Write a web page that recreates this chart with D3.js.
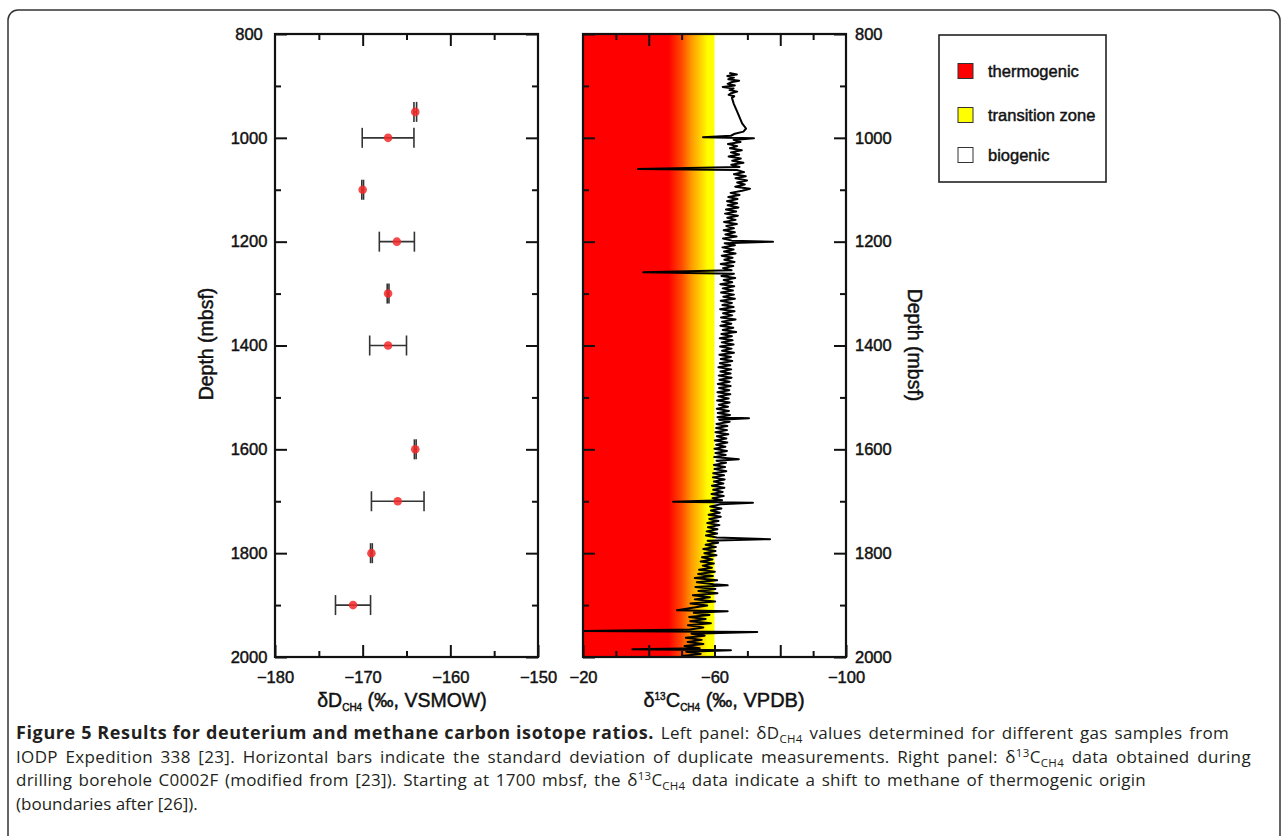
<!DOCTYPE html>
<html>
<head>
<meta charset="utf-8">
<script src="https://cdn.jsdelivr.net/npm/d3@7"></script>
<style>
    body { margin: 0; background: #fff; }
    #chart text { font-family: "Liberation Sans", Arial, sans-serif; fill: #111; }
    #chart text.heavy { stroke: #111; stroke-width: 0.45px; }
    #chart text.caption { font-family: "Open Sans", "Noto Sans", sans-serif; fill: #231f20; stroke: none; }
</style>
</head>
<body>
<svg id="chart" width="1282" height="836"></svg>
<script>
// left panel: deltaD of methane, one sample per depth with standard deviation
const dDepth = [950, 1000, 1100, 1200, 1300, 1400, 1600, 1700, 1800, 1900];
const dValue = [-164.0, -167.1, -170.0, -166.1, -167.1, -167.1, -164.0, -166.0, -169.0, -171.1];
const dStd = [0.15, 2.95, 0.1, 2.0, 0.1, 2.1, 0.1, 3.0, 0.1, 2.0];

// right panel: delta13C of methane while drilling C0002F, [depth, value]
const c13Profile = [
    [875, -64.5], [878, -66.8], [881, -63.9], [884, -65.9], [887, -64.2], [890, -67.5], [893, -65.0], [896, -64.0],
    [899, -66.2], [902, -62.5], [905, -65.8], [908, -64.6], [911, -66.9], [914, -65.1], [917, -64.3], [920, -66.0],
    [923, -65.3], [935, -65.9], [948, -66.8], [960, -67.6], [972, -68.4], [982, -69.6], [988, -68.8], [992, -66.2],
    [996, -65.0], [999, -56.5], [1001, -72.0], [1004, -65.8], [1008, -67.9], [1012, -64.1], [1016, -66.9], [1020, -64.7],
    [1024, -68.3], [1028, -65.0], [1032, -67.5], [1036, -64.3], [1040, -68.0], [1044, -65.4], [1048, -68.8], [1052, -65.1],
    [1056, -67.6], [1060, -36.7], [1062, -66.8], [1066, -69.0], [1070, -65.9], [1074, -69.5], [1078, -66.4], [1082, -69.9],
    [1086, -66.9], [1090, -69.2], [1094, -66.3], [1098, -70.8], [1102, -68.4], [1106, -64.9], [1110, -67.6], [1114, -64.2],
    [1118, -67.0], [1122, -63.8], [1126, -66.9], [1130, -64.0], [1134, -67.3], [1138, -63.5], [1142, -66.6], [1146, -63.2],
    [1150, -67.1], [1154, -63.9], [1158, -66.4], [1162, -62.9], [1166, -66.8], [1170, -63.6], [1174, -65.9], [1178, -62.8],
    [1182, -66.2], [1186, -63.3], [1190, -66.7], [1194, -62.6], [1198, -65.3], [1200, -77.8], [1203, -63.1], [1207, -66.2],
    [1211, -62.4], [1215, -65.8], [1219, -62.9], [1223, -66.4], [1227, -62.2], [1231, -65.5], [1235, -63.0], [1239, -66.1],
    [1243, -61.9], [1247, -65.7], [1251, -62.6], [1255, -65.2], [1259, -38.3], [1262, -65.9], [1266, -62.1], [1270, -66.3],
    [1274, -62.8], [1278, -65.4], [1282, -61.8], [1286, -66.0], [1290, -62.5], [1294, -65.6], [1298, -62.0], [1302, -65.9],
    [1306, -62.7], [1310, -66.2], [1314, -61.9], [1318, -65.3], [1322, -62.4], [1326, -65.8], [1330, -61.7], [1334, -66.1],
    [1338, -62.6], [1342, -65.4], [1346, -62.0], [1350, -66.4], [1354, -62.3], [1358, -65.1], [1362, -61.8], [1366, -65.7],
    [1370, -62.5], [1374, -66.6], [1378, -62.1], [1382, -65.3], [1386, -61.6], [1390, -65.5], [1394, -62.2], [1398, -65.8],
    [1402, -61.7], [1406, -65.2], [1410, -62.3], [1414, -65.9], [1418, -61.5], [1422, -65.0], [1426, -61.9], [1430, -65.4],
    [1434, -61.6], [1438, -64.8], [1442, -61.2], [1446, -65.1], [1450, -61.8], [1454, -64.9], [1458, -61.3], [1462, -65.2],
    [1466, -61.5], [1470, -64.6], [1474, -61.0], [1478, -64.9], [1482, -61.4], [1486, -64.5], [1490, -60.9], [1494, -64.8],
    [1498, -61.2], [1502, -64.3], [1506, -60.8], [1510, -64.6], [1514, -61.3], [1518, -64.1], [1522, -60.7], [1526, -64.4],
    [1530, -61.0], [1534, -64.7], [1538, -60.9], [1540, -70.5], [1543, -61.4], [1547, -64.6], [1551, -60.6], [1555, -63.9],
    [1559, -60.5], [1563, -63.8], [1567, -60.3], [1571, -64.2], [1575, -60.7], [1579, -63.6], [1583, -60.1], [1587, -63.9],
    [1591, -60.5], [1595, -63.3], [1599, -60.0], [1603, -63.8], [1607, -60.3], [1611, -63.4], [1615, -59.9], [1619, -67.4],
    [1622, -60.6], [1626, -63.5], [1630, -59.8], [1634, -63.2], [1638, -60.0], [1642, -63.6], [1646, -59.6], [1650, -62.9],
    [1654, -59.5], [1658, -63.1], [1662, -59.8], [1666, -62.7], [1670, -59.2], [1674, -63.0], [1678, -59.6], [1682, -62.5],
    [1686, -59.1], [1690, -62.8], [1694, -59.4], [1698, -62.3], [1701, -47.4], [1703, -71.7], [1706, -61.8], [1710, -58.7],
    [1714, -62.1], [1718, -58.9], [1722, -61.6], [1726, -58.2], [1730, -61.9], [1734, -58.4], [1738, -61.2], [1742, -57.8],
    [1746, -61.5], [1750, -58.0], [1754, -60.9], [1758, -57.6], [1762, -60.8], [1766, -57.4], [1770, -60.7], [1773, -76.9],
    [1776, -57.9], [1780, -61.1], [1784, -57.3], [1788, -60.4], [1792, -56.6], [1796, -60.3], [1800, -56.9], [1804, -60.6],
    [1808, -56.2], [1812, -59.4], [1816, -55.8], [1820, -59.8], [1824, -56.4], [1828, -59.2], [1832, -55.3], [1836, -60.1],
    [1840, -55.0], [1844, -59.5], [1848, -54.0], [1852, -60.8], [1856, -54.6], [1860, -59.7], [1862, -64.0], [1865, -54.2],
    [1869, -60.3], [1873, -55.1], [1877, -60.9], [1881, -53.4], [1885, -58.6], [1889, -54.0], [1893, -60.2], [1897, -52.7],
    [1901, -57.8], [1905, -53.3], [1910, -48.6], [1912, -64.0], [1915, -53.7], [1919, -58.5], [1923, -52.3], [1927, -57.3],
    [1931, -52.6], [1935, -58.9], [1939, -51.9], [1943, -56.6], [1947, -52.5], [1950, -20.0], [1952, -73.0], [1955, -53.0],
    [1959, -57.0], [1963, -51.3], [1967, -56.1], [1971, -51.8], [1975, -56.6], [1979, -50.9], [1983, -55.5], [1985, -35.0],
    [1987, -65.0], [1990, -51.4], [1994, -55.8], [1998, -50.1], [2000, -53.9]
];

const depthLabels = [800, 1000, 1200, 1400, 1600, 1800, 2000];
const depthMinor = [900, 1100, 1300, 1500, 1700, 1900];
const dLabels = [-180, -170, -160, -150];
const dMajor = [-170, -160];
const dMinor = [-175, -165, -155];
const cLabels = [-20, -60, -100];
const cMajor = [-40, -80];
const cMinor = [-30, -50, -70, -90];

const legendNames = ["thermogenic", "transition zone", "biogenic"];
const legendColors = ["#ff0000", "#ffff00", "#ffffff"];

const svg = d3.select('#chart');

// frame of the whole figure
svg.append('rect')
    .attr('x', 8).attr('y', 10)
    .attr('width', 1272).attr('height', 850)
    .attr('rx', 10)
    .attr('fill', 'none')
    .attr('stroke', '#333')
    .attr('stroke-width', 1.5);

const plotTop = 34, plotBottom = 657;
const y = d3.scaleLinear().domain([800, 2000]).range([plotTop, plotBottom]);
const xD = d3.scaleLinear().domain([-180, -150]).range([275, 538]);
const xC = d3.scaleLinear().domain([-20, -100]).range([583, 846]);

function styleAxis(g) {
    g.select('.domain').remove();
    g.selectAll('line').attr('stroke', '#111').attr('stroke-width', 2);
    g.selectAll('text').attr('class', 'heavy').style('font-size', '16.5px');
}

function drawFrame(x, labelsX, majorX, minorX, yLabelSide) {
    const [x0, x1] = x.range();

    // ticks inside the box, on all four sides
    svg.append('g').attr('transform', `translate(0,${plotTop})`)
        .call(d3.axisTop(x).tickValues(majorX).tickSize(-12).tickFormat(''))
        .call(styleAxis);
    svg.append('g').attr('transform', `translate(0,${plotTop})`)
        .call(d3.axisTop(x).tickValues(minorX).tickSize(-6).tickFormat(''))
        .call(styleAxis);
    svg.append('g').attr('transform', `translate(0,${plotBottom})`)
        .call(d3.axisBottom(x).tickValues(labelsX).tickSize(-12).tickPadding(14).tickFormat(d3.format('d')))
        .call(styleAxis);
    svg.append('g').attr('transform', `translate(0,${plotBottom})`)
        .call(d3.axisBottom(x).tickValues(majorX.filter(v => !labelsX.includes(v))).tickSize(-12).tickFormat(''))
        .call(styleAxis);
    svg.append('g').attr('transform', `translate(0,${plotBottom})`)
        .call(d3.axisBottom(x).tickValues(minorX).tickSize(-6).tickFormat(''))
        .call(styleAxis);

    const left = svg.append('g').attr('transform', `translate(${x0},0)`)
        .call(d3.axisLeft(y).tickValues(depthLabels).tickSize(-12).tickPadding(0).tickFormat(d3.format('d')))
        .call(styleAxis);
    svg.append('g').attr('transform', `translate(${x0},0)`)
        .call(d3.axisLeft(y).tickValues(depthMinor).tickSize(-6).tickFormat(''))
        .call(styleAxis);
    const right = svg.append('g').attr('transform', `translate(${x1},0)`)
        .call(d3.axisRight(y).tickValues(depthLabels).tickSize(-12).tickPadding(9).tickFormat(d3.format('d')))
        .call(styleAxis);
    svg.append('g').attr('transform', `translate(${x1},0)`)
        .call(d3.axisRight(y).tickValues(depthMinor).tickSize(-6).tickFormat(''))
        .call(styleAxis);

    if (yLabelSide === 'left') {
        left.selectAll('text').attr('x', -26).attr('text-anchor', 'middle');
        right.selectAll('text').remove();
    } else {
        left.selectAll('text').remove();
    }

    svg.append('rect')
        .attr('x', x0).attr('y', plotTop)
        .attr('width', x1 - x0).attr('height', plotBottom - plotTop)
        .attr('fill', 'none')
        .attr('stroke', '#111')
        .attr('stroke-width', 2.2);
}

// ---- right panel background: thermogenic -> transition zone
const grad = svg.append('defs').append('linearGradient')
    .attr('id', 'zone')
    .attr('gradientUnits', 'userSpaceOnUse')
    .attr('x1', xC(-20)).attr('x2', xC(-60))
    .attr('y1', 0).attr('y2', 0);
[[-20, '#ff0000'], [-46, '#ff0000'], [-50, '#ff4a00'], [-53, '#ff9a00'], [-56.5, '#ffe000'], [-58, '#ffff00'], [-60, '#ffff00']]
    .forEach(([v, c]) => {
        grad.append('stop')
            .attr('offset', (v + 20) / -40)
            .attr('stop-color', c);
    });

svg.append('rect')
    .attr('x', xC(-20)).attr('y', plotTop)
    .attr('width', xC(-60) - xC(-20)).attr('height', plotBottom - plotTop)
    .attr('fill', 'url(#zone)');

svg.append('path')
    .datum(c13Profile)
    .attr('fill', 'none')
    .attr('stroke', '#000')
    .attr('stroke-width', 2)
    .attr('stroke-linejoin', 'round')
    .attr('d', d3.line().x(d => xC(d[1])).y(d => y(d[0])));

drawFrame(xC, cLabels, cMajor, cMinor, 'right');

// ---- left panel: deltaD with error bars
const samples = dDepth.map((d, i) => ({ depth: d, value: dValue[i], sd: dStd[i] }));

const bars = svg.append('g')
    .attr('stroke', '#333')
    .attr('stroke-width', 1.6);
bars.selectAll('.bar')
    .data(samples)
    .enter().append('line')
    .attr('x1', d => xD(d.value - d.sd))
    .attr('x2', d => xD(d.value + d.sd))
    .attr('y1', d => y(d.depth))
    .attr('y2', d => y(d.depth));
bars.selectAll('.capLo')
    .data(samples)
    .enter().append('line')
    .attr('x1', d => xD(d.value - d.sd))
    .attr('x2', d => xD(d.value - d.sd))
    .attr('y1', d => y(d.depth) - 10)
    .attr('y2', d => y(d.depth) + 10);
bars.selectAll('.capHi')
    .data(samples)
    .enter().append('line')
    .attr('x1', d => xD(d.value + d.sd))
    .attr('x2', d => xD(d.value + d.sd))
    .attr('y1', d => y(d.depth) - 10)
    .attr('y2', d => y(d.depth) + 10);

svg.selectAll('.dot')
    .data(samples)
    .enter().append('circle')
    .attr('cx', d => xD(d.value))
    .attr('cy', d => y(d.depth))
    .attr('r', 4.3)
    .attr('fill', '#f42a2a')
    .attr('fill-opacity', 0.85);

drawFrame(xD, dLabels, dMajor, dMinor, 'left');

// ---- axis titles
function depthTitle(cx, cy, angle) {
    svg.append('text')
        .attr('class', 'heavy')
        .attr('transform', `translate(${cx},${cy}) rotate(${angle})`)
        .attr('text-anchor', 'middle')
        .attr('dy', '0.35em')
        .style('font-size', '19.5px')
        .text('Depth (mbsf)');
}
depthTitle(206, 344, -90);
depthTitle(915, 345, 90);

const tD = svg.append('text')
    .attr('class', 'heavy')
    .attr('x', 402).attr('y', 707)
    .attr('text-anchor', 'middle')
    .style('font-size', '19.5px');
tD.append('tspan').text('δD');
tD.append('tspan').attr('dy', 4).style('font-size', '10px').text('CH4');
tD.append('tspan').attr('dy', -4).text(' (‰, VSMOW)');

const tC = svg.append('text')
    .attr('class', 'heavy')
    .attr('x', 724).attr('y', 707)
    .attr('text-anchor', 'middle')
    .style('font-size', '20px');
tC.append('tspan').text('δ');
tC.append('tspan').attr('dy', -7).style('font-size', '10px').text('13');
tC.append('tspan').attr('dy', 7).text('C');
tC.append('tspan').attr('dy', 4).style('font-size', '10px').text('CH4');
tC.append('tspan').attr('dy', -4).text(' (‰, VPDB)');

// ---- legend
const legend = svg.append('g');
legend.append('rect')
    .attr('x', 939).attr('y', 35)
    .attr('width', 167).attr('height', 147)
    .attr('fill', '#fff')
    .attr('stroke', '#222')
    .attr('stroke-width', 1.6);
const item = legend.selectAll('.item')
    .data(legendNames)
    .enter().append('g')
    .attr('transform', (d, i) => `translate(958,${[71, 115, 155][i]})`);
item.append('rect')
    .attr('x', 0).attr('y', -7.5)
    .attr('width', 15).attr('height', 15)
    .attr('fill', (d, i) => legendColors[i])
    .attr('stroke', '#333')
    .attr('stroke-width', 1);
item.append('text')
    .attr('class', 'heavy')
    .attr('x', 30).attr('dy', '0.35em')
    .style('font-size', '16.5px')
    .text(d => d);

// ---- caption, justified like the printed figure
const captionLines = [
    [['b', 'Figure 5 Results for deuterium and methane carbon isotope ratios.'], ['', ' Left panel: δD'], ['sub', 'CH4'], ['', ' values determined for different gas samples from']],
    [['', 'IODP Expedition 338 [23]. Horizontal bars indicate the standard deviation of duplicate measurements. Right panel: δ'], ['sup', '13'], ['', 'C'], ['sub', 'CH4'], ['', ' data obtained during']],
    [['', 'drilling borehole C0002F (modified from [23]). Starting at 1700 mbsf, the δ'], ['sup', '13'], ['', 'C'], ['sub', 'CH4'], ['', ' data indicate a shift to methane of thermogenic origin']],
    [['', '(boundaries after [26]).']]
];
const captionEnds = [1229, 1251, 1146, null];
const boldWidth = 638;

captionLines.forEach((line, li) => {
    const t = svg.append('text')
        .attr('class', 'caption')
        .attr('x', 16)
        .attr('y', 739 + li * 23.5)
        .style('font-size', '17px');
    let shift = 0;
    const spans = line.map(([kind, str]) => {
        const want = kind === 'sub' ? 4 : kind === 'sup' ? -6 : 0;
        const s = t.append('tspan')
            .attr('dy', want - shift)
            .text(str);
        shift = want;
        if (kind === 'b') s.style('font-weight', 'bold').style('font-size', '18px');
        if (kind === 'sub' || kind === 'sup') s.style('font-size', '11.5px');
        return { kind, str, sel: s };
    });

    const bold = spans.find(s => s.kind === 'b');
    if (bold) {
        const len = bold.sel.node().getComputedTextLength();
        bold.sel.style('letter-spacing', `${(boldWidth - len) / bold.str.length}px`);
    }

    if (captionEnds[li]) {
        const plain = spans.filter(s => s.kind !== 'b');
        const txt = plain.map(s => s.str).join('');
        const extra = captionEnds[li] - 16 - t.node().getComputedTextLength();
        const spaces = txt.split(' ').length - 1;
        plain.forEach(s => s.sel
            .style('letter-spacing', `${extra * 0.5 / txt.length}px`)
            .style('word-spacing', `${extra * 0.5 / spaces}px`));
    }
});
</script>
</body>
</html>
